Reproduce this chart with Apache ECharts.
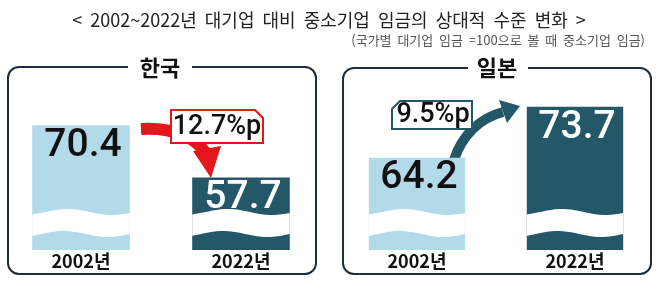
<!DOCTYPE html>
<html lang="ko">
<head>
    <title>대기업 대비 중소기업 임금</title>
    <meta charset="utf-8">
</head>
<body style="margin:0;background:#fff">
<script type="text/javascript" src="https://cdn.jsdelivr.net/npm/echarts@6/dist/echarts.min.js"></script>
<div id="main" style="width: 658px;height: 285px"></div>
<script type="text/javascript">
    // 데이터
    var years = ['2002년', '2022년'];
    var countries = ['한국', '일본'];
    var korea = [70.4, 57.7];
    var japan = [64.2, 73.7];
    // 물결 생략 축의 시작값 (국가별)
    var axisMin = [40, 47];
    var axisMax = [80, 80];

    var LIGHT = '#b3dae9', DARK = '#245868', RED = '#e3161b', LINE = '#1f2d3a';
    var FONT = '"Noto Sans CJK KR", "Noto Sans", sans-serif';
    var NUM_FONT = 'Roboto, "Noto Sans", sans-serif';

    var dom = document.getElementById('main');
    var myChart = echarts.init(dom);

    // 막대 + 물결 끊김 + 값 라벨
    function makeRender(min) {
        return function (params, api) {
            var idx = api.value(0);
            var val = api.value(1);
            var top = api.coord([idx, val]);
            var base = api.coord([idx, min]);
            var w = api.size([1, 0])[0] * 0.61;
            var x0 = top[0] - w / 2;
            var color = idx === 0 ? LIGHT : DARK;
            // 흰 물결 띠
            var pts = [], n = 24, i, t;
            for (i = 0; i <= n; i++) {
                t = i / n;
                pts.push([x0 + w * t, base[1] - 38 - 3 * Math.sin(2 * Math.PI * (t * 1.1 - 0.15))]);
            }
            for (i = n; i >= 0; i--) {
                t = i / n;
                pts.push([x0 + w * t, base[1] - 16 - 3 * Math.sin(2 * Math.PI * (t * 1.1 - 0.1))]);
            }
            return {
                type: 'group',
                children: [{
                    type: 'rect',
                    shape: {x: x0, y: top[1], width: w, height: base[1] - top[1]},
                    style: {fill: color}
                }, {
                    type: 'polygon',
                    shape: {points: pts},
                    style: {fill: '#fff'}
                }, {
                    type: 'text',
                    style: {
                        text: val.toFixed(1),
                        x: top[0] + 2,
                        y: top[1] + 21,
                        align: 'center',
                        verticalAlign: 'middle',
                        fill: idx === 0 ? '#111' : '#fff',
                        fontSize: 39,
                        fontWeight: 500,
                        fontFamily: NUM_FONT
                    }
                }]
            };
        };
    }

    function toData(arr) {
        return arr.map(function (v, i) { return [i, v]; });
    }

    var xAxisBase = {
        type: 'category',
        data: years,
        axisLine: {show: false},
        axisTick: {show: false},
        axisLabel: {
            margin: 2,
            fontSize: 18,
            fontWeight: 'bold',
            color: '#111',
            fontFamily: FONT
        }
    };

    var panelTitle = function (text, cx, gapL, gapR) {
        return [{
            type: 'rect',
            shape: {x: gapL, y: 60, width: gapR - gapL, height: 14},
            style: {fill: '#fff'}
        }, {
            type: 'text',
            x: cx, y: 68,
            style: {
                text: text, align: 'center', verticalAlign: 'middle',
                fontSize: 22, fontWeight: 'bold', fill: '#111', fontFamily: FONT
            }
        }];
    };

    var option = {
        animation: false,
        title: [{
            text: '<  2002~2022년  대기업  대비  중소기업  임금의  상대적  수준  변화  >',
            left: 'center',
            top: 6,
            textStyle: {fontSize: 18, fontWeight: 'normal', color: '#222', fontFamily: FONT}
        }, {
            text: '(국가별  대기업  임금  =100으로  볼  때  중소기업  임금)',
            right: 8,
            top: 29,
            textStyle: {fontSize: 13, fontWeight: 'normal', color: '#555', fontFamily: FONT}
        }],
        grid: [
            {left: 1, width: 320, top: 86, bottom: 35},
            {left: 338, width: 316, top: 73, bottom: 35}
        ],
        xAxis: [
            Object.assign({gridIndex: 0}, xAxisBase),
            Object.assign({gridIndex: 1}, xAxisBase)
        ],
        yAxis: [
            {gridIndex: 0, type: 'value', min: axisMin[0], max: axisMax[0], show: false},
            {gridIndex: 1, type: 'value', min: axisMin[1], max: axisMax[1], show: false}
        ],
        series: [{
            name: countries[0],
            type: 'custom',
            xAxisIndex: 0,
            yAxisIndex: 0,
            renderItem: makeRender(axisMin[0]),
            encode: {x: 0, y: 1},
            data: toData(korea)
        }, {
            name: countries[1],
            type: 'custom',
            xAxisIndex: 1,
            yAxisIndex: 1,
            renderItem: makeRender(axisMin[1]),
            encode: {x: 0, y: 1},
            data: toData(japan)
        }],
        graphic: [].concat(
            [{
                type: 'rect',
                shape: {x: 8, y: 67, width: 308, height: 207, r: 11},
                style: {fill: 'none', stroke: LINE, lineWidth: 2}
            }, {
                type: 'rect',
                shape: {x: 343, y: 68, width: 308, height: 206, r: 11},
                style: {fill: 'none', stroke: LINE, lineWidth: 2}
            }],
            panelTitle(countries[0], 160, 128, 192),
            panelTitle(countries[1], 497, 468, 528),
            [
                // 한국: 하락 화살표
                {
                    type: 'bezierCurve',
                    shape: {x1: 141, y1: 129, cpx1: 176, cpy1: 127, cpx2: 196, cpy2: 139, x2: 206, y2: 153},
                    style: {stroke: RED, lineWidth: 12, fill: 'none'}
                }, {
                    type: 'polygon',
                    shape: {points: [[193, 151], [221, 146], [211, 178]]},
                    style: {fill: RED}
                }, {
                    type: 'polygon',
                    shape: {points: [[171, 110], [255, 110], [263, 118], [263, 143], [171, 143]]},
                    style: {fill: '#fff', stroke: RED, lineWidth: 2}
                }, {
                    type: 'text',
                    x: 217, y: 127,
                    style: {
                        text: (korea[0] - korea[1]).toFixed(1) + '%p',
                        align: 'center', verticalAlign: 'middle',
                        fontSize: 27, fontWeight: 500, fill: '#111',
                        fontFamily: NUM_FONT
                    }
                },
                // 일본: 상승 화살표
                {
                    type: 'bezierCurve',
                    shape: {x1: 454, y1: 160, cpx1: 462, cpy1: 135, cpx2: 480, cpy2: 118, x2: 503, y2: 112},
                    style: {stroke: DARK, lineWidth: 10, fill: 'none'}
                }, {
                    type: 'polygon',
                    shape: {points: [[499, 100], [520, 106], [507, 123]]},
                    style: {fill: DARK}
                }, {
                    type: 'polygon',
                    shape: {points: [[400, 101], [472, 101], [472, 129], [392, 129], [392, 109]]},
                    style: {fill: '#fff', stroke: DARK, lineWidth: 2}
                }, {
                    type: 'text',
                    x: 433, y: 115,
                    style: {
                        text: (japan[1] - japan[0]).toFixed(1) + '%p',
                        align: 'center', verticalAlign: 'middle',
                        fontSize: 27, fontWeight: 500, fill: '#111',
                        fontFamily: NUM_FONT
                    }
                }
            ]
        )
    };
    myChart.setOption(option);
</script>
</body>
</html>
